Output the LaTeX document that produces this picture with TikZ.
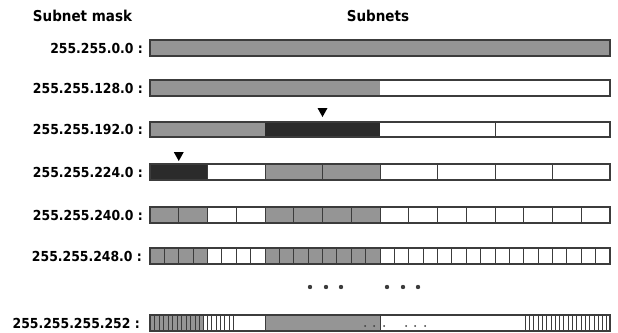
\documentclass[tikz,border=0pt]{standalone}
\usepackage{fontspec}
\setmainfont{DejaVu Sans Condensed}
\definecolor{gfill}{HTML}{959595}
\definecolor{dfill}{HTML}{2B2B2B}
\definecolor{edge}{HTML}{3C3C3C}
\begin{document}
\begin{tikzpicture}[x=1pt,y=-1pt,
  lbl/.style={anchor=east,font=\fontsize{13.8}{14}\selectfont\bfseries,inner sep=0pt},
  head/.style={font=\fontsize{15}{16}\selectfont\bfseries,inner sep=0pt},
  outline/.style={draw=edge,line width=1.3pt},
  div/.style={draw=edge,line width=0.9pt},
  thin/.style={draw=edge,line width=0.5pt},
  tri/.style={fill=black},
  bigdot/.style={fill=edge},
]
\useasboundingbox (0,0) rectangle (618,332);
% headings
\node[head] (hmask) at (82.5,16) {Subnet mask};
\node[head] (hsub) at (378,16) {Subnets};
% labels
\node[lbl] (l1) at (143,48) {255.255.0.0 :};
\node[lbl] (l2) at (143,88) {255.255.128.0 :};
\node[lbl] (l3) at (143,129.5) {255.255.192.0 :};
\node[lbl] (l4) at (143,172) {255.255.224.0 :};
\node[lbl] (l5) at (143,215) {255.255.240.0 :};
\node[lbl] (l6) at (142,256) {255.255.248.0 :};
\node[lbl] (l7) at (140,323) {255.255.255.252 :};
% row 1
\fill[gfill] (150,40) rectangle (610,56);
\draw[outline] (150,40) rectangle (610,56);
% row 2
\fill[gfill] (150,80) rectangle (380,96);
\fill[white] (380,80) rectangle (610,96);
\draw[outline] (150,80) rectangle (610,96);
% row 3
\fill[gfill] (150,122) rectangle (265,137);
\fill[dfill] (265,122) rectangle (380,137);
\foreach \x in {495} \draw[div] (\x,122) -- (\x,137);
\draw[outline] (150,122) rectangle (610,137);
\fill[tri] (317.5,108) -- (327.5,108) -- (322.5,117) -- cycle;
% row 4
\fill[dfill] (150,164) rectangle (207.5,180);
\fill[gfill] (265,164) rectangle (380,180);
\foreach \x in {207.5,265,322.5,380,437.5,495,552.5} \draw[div] (\x,164) -- (\x,180);
\draw[outline] (150,164) rectangle (610,180);
\fill[tri] (173.75,152) -- (183.75,152) -- (178.75,161) -- cycle;
% row 5
\fill[gfill] (150,207) rectangle (207.5,223);
\fill[gfill] (265,207) rectangle (380,223);
\foreach \i in {1,...,15} \draw[div] (150+\i*28.75,207) -- (150+\i*28.75,223);
\draw[outline] (150,207) rectangle (610,223);
% row 6
\fill[gfill] (150,248) rectangle (207.5,264);
\fill[gfill] (265,248) rectangle (380,264);
\foreach \i in {1,...,31} \draw[div] (150+\i*14.375,248) -- (150+\i*14.375,264);
\draw[outline] (150,248) rectangle (610,264);
% dots
\foreach \x in {310,326,341,387,403,418} \fill[bigdot] (\x,287) circle (2.2);
% row 7
\fill[gfill] (150,315) rectangle (203,331);
\fill[gfill] (265,315) rectangle (380,331);
\foreach \i in {1,...,11} \draw[thin] (150+\i*4.5,315) -- (150+\i*4.5,331);
\foreach \i in {0,...,7} \draw[thin] (203+\i*4.3,315) -- (203+\i*4.3,331);
\foreach \i in {0,...,19} \draw[thin] (525+\i*4.3,315) -- (525+\i*4.3,331);
\draw[div] (265,315) -- (265,331);
\draw[div] (380,315) -- (380,331);
\foreach \x in {365,374,384,406,415,425} \fill[bigdot] (\x,326) circle (1);
\draw[outline] (150,315) rectangle (610,331);
\end{tikzpicture}
\end{document}
